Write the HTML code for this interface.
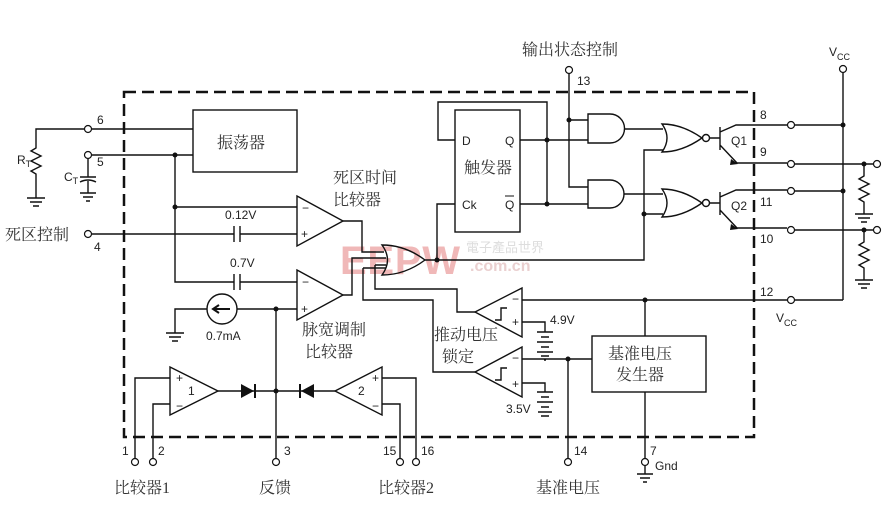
<!DOCTYPE html>
<html><head><meta charset="utf-8"><style>
html,body{margin:0;padding:0;background:#fff;}
svg{display:block;}
text{font-family:"Liberation Sans",Arial,sans-serif;fill:#222;}
.cn{font-family:"Liberation Serif","Noto Serif CJK SC","Noto Sans CJK SC",serif;font-size:16px;fill:#333;}
.n{font-size:12px;}
</style></head><body>
<svg width="896" height="506" viewBox="0 0 896 506" xmlns="http://www.w3.org/2000/svg">
<g stroke="#111" stroke-width="1.3" fill="none">
<rect x="124" y="92" width="630" height="345" stroke-width="2.5" stroke-dasharray="12,6"/>
</g>
<text x="340" y="274" style="font-size:40px;font-weight:bold;fill:#f0b8b8" textLength="120">EEPW</text>
<text x="466" y="252" style="font-size:13px;fill:#ddd">電子產品世界</text>
<text x="470" y="271" style="font-size:16px;font-weight:bold;fill:#ead0d0">.com.cn</text>
<g stroke="#111" stroke-width="1.4" fill="none">
<rect x="193" y="110" width="104" height="62"/>
<path d="M92,129 H193 M92,155 H193 M84,129 H36 V148 l-5,3 10,5 -10,5 10,5 -10,5 5,3 V198"/>
<path d="M27,198 H45 M30,202 H42 M33,206 H39"/>
<path d="M88,159 V177 M80,177 H96 M80,182 Q88,178 96,182 M88,181 V193 M80,193 H96 M83,197 H93 M86,201 H90"/>
<path d="M175,155 V282 H234 M240,282 H297 M175,207 H297"/>
<path d="M92,234 H234 M240,234 H297"/>
<path d="M234,226 V242 M240,226 V242 M234,274 V290 M240,274 V290"/>
<path d="M297,196 L343,221 L297,246 Z"/>
<path d="M297,270 L343,295 L297,320 Z"/>
<circle cx="222" cy="309" r="15"/>
<path d="M207,309 H175 V333 M166,333 H184 M169,337 H181 M172,341 H178 M237,309 H297"/>
<path d="M230,309 H214 M219,305 L213,309 219,313" stroke-width="2"/>
<path d="M276,309 V458"/>
<path d="M343,221 H362 V252 H384 M343,295 H352 V258 H386 M375,265 H386 M375,265 V289 H457 V312 H475 M363,268 H386 M363,268 V300 H433 V372 H475"/>
<path d="M382,245 Q405,245 425,260 Q405,275 382,275 Q393,260 382,245 Z"/>
<path d="M425,260 H644 V150 H663 M644,214 H663 M437,260 V204 H455"/>
<rect x="455" y="110" width="65" height="122"/>
<path d="M455,140 H438 V102 H547 V204 M520,140 H588 M520,204 H588"/>
<path d="M569,73 V187 H588 M569,120 H588"/>
<path d="M588,114 H610 A14.5,14.5 0 0 1 610,143 H588 Z"/>
<path d="M588,180 H610 A14,14 0 0 1 610,208 H588 Z"/>
<path d="M625,129 H663 M624,194 H663"/>
<path d="M662,124 Q682,124 702,138 Q682,152 662,152 Q672,138 662,124 Z"/>
<path d="M662,189 Q682,189 702,203 Q682,217 662,217 Q672,203 662,189 Z"/>
<circle cx="706" cy="138" r="3.5"/><circle cx="706" cy="203" r="3.5"/>
<path d="M710,138 H720 M720,127 V150 M720,132 L736,125 H787 M720,145 L737,163 H787"/>
<path d="M710,203 H720 M720,192 V215 M720,197 L736,190 H787 M720,210 L737,228 H787"/>
<path d="M795,125 H843 M795,164 H873 M795,191 H843 M795,230 H873 M795,300 H843 M843,73 V300"/>
<path d="M864,164 V176 l-5,3 10,5 -10,5 10,5 -10,5 5,3 V214 M855,214 H873 M858,218 H870 M861,222 H867"/>
<path d="M864,230 V242 l-5,3 10,5 -10,5 10,5 -10,5 5,3 V280 M855,280 H873 M858,284 H870 M861,288 H867"/>
<path d="M522,288 L475,312 L522,337 Z M522,347 L475,372 L522,397 Z"/>
<path d="M522,300 H787 M522,322 H545 V332 M522,383 H545 V392 M522,359 H592"/>
<path d="M495,320 h6 v-12 h6 M495,380 h6 v-12 h6"/>
<path d="M537,332 H553 M541,337 H549 M537,342 H553 M541,347 H549 M537,352 H553 M541,356 H549 M544,360 H546"/>
<path d="M537,392 H553 M541,397 H549 M537,402 H553 M541,407 H549 M538,412 H552 M541,416 H549"/>
<rect x="592" y="336" width="114" height="56"/>
<path d="M645,300 V336 M645,392 V458 M568,359 V458 M637,474 H653 M640,478 H650 M643,482 H647 M645,466 V474"/>
<path d="M170,367 L218,391 L170,415 Z M382,367 L335,391 L382,415 Z"/>
<path d="M218,391 H335"/>
<path d="M135,458 V378 H170 M153,458 V404 H170 M416,458 V378 H382 M400,458 V404 H382"/>
</g>
<g fill="#111">
<path d="M241,384 L254,391 241,398 Z M314,384 L301,391 314,398 Z"/>
<rect x="254" y="384" width="2" height="14"/><rect x="299" y="384" width="2" height="14"/>
<circle cx="175" cy="155" r="2.5"/><circle cx="175" cy="207" r="2.5"/>
<circle cx="276" cy="309" r="2.5"/><circle cx="276" cy="391" r="2.5"/>
<circle cx="437" cy="260" r="2.5"/><circle cx="547" cy="140" r="2.5"/><circle cx="547" cy="204" r="2.5"/>
<circle cx="569" cy="120" r="2.5"/><circle cx="644" cy="214" r="2.5"/>
<circle cx="843" cy="125" r="2.5"/><circle cx="843" cy="191" r="2.5"/>
<circle cx="864" cy="164" r="2.5"/><circle cx="864" cy="230" r="2.5"/>
<circle cx="645" cy="300" r="2.5"/><circle cx="568" cy="359" r="2.5"/>
<path d="M731,159 L738,164 730,165 Z M731,224 L738,229 730,230 Z"/>
</g>
<g fill="#fff" stroke="#111" stroke-width="1.2">
<circle cx="88" cy="129" r="3.5"/><circle cx="88" cy="155" r="3.5"/><circle cx="88" cy="234" r="3.5"/>
<circle cx="569" cy="70" r="3.5"/><circle cx="843" cy="69" r="3.5"/>
<circle cx="791" cy="125" r="3.5"/><circle cx="791" cy="164" r="3.5"/><circle cx="791" cy="191" r="3.5"/><circle cx="791" cy="230" r="3.5"/><circle cx="791" cy="300" r="3.5"/>
<circle cx="877" cy="164" r="3.5"/><circle cx="877" cy="230" r="3.5"/>
<circle cx="135" cy="462" r="3.5"/><circle cx="153" cy="462" r="3.5"/><circle cx="276" cy="462" r="3.5"/><circle cx="400" cy="462" r="3.5"/><circle cx="416" cy="462" r="3.5"/><circle cx="568" cy="462" r="3.5"/><circle cx="645" cy="462" r="3.5"/>
</g>
<g>
<text x="97" y="124" class="n">6</text><text x="97" y="166" class="n">5</text><text x="94" y="251" class="n">4</text>
<text x="17" y="164" class="n">R<tspan font-size="9" dy="3">T</tspan></text>
<text x="64" y="181" class="n">C<tspan font-size="9" dy="3">T</tspan></text>
<text x="225" y="219" class="n">0.12V</text><text x="230" y="267" class="n">0.7V</text>
<text x="206" y="340" class="n">0.7mA</text>
<text x="302" y="212" class="n">−</text><text x="301" y="238" class="n">+</text>
<text x="302" y="286" class="n">−</text><text x="301" y="313" class="n">+</text>
<text x="176" y="382" class="n">+</text><text x="176" y="410" class="n">−</text><text x="188" y="395" class="n">1</text>
<text x="372" y="382" class="n">+</text><text x="372" y="410" class="n">−</text><text x="358" y="395" class="n">2</text>
<text x="512" y="303" class="n">−</text><text x="512" y="326" class="n">+</text>
<text x="512" y="362" class="n">−</text><text x="512" y="388" class="n">+</text>
<text x="550" y="324" class="n">4.9V</text><text x="506" y="413" class="n">3.5V</text>
<text x="462" y="145" class="n">D</text><text x="505" y="145" class="n">Q</text>
<text x="462" y="209" class="n">Ck</text><text x="505" y="209" class="n">Q</text>
<path d="M505,196 H514" stroke="#111" stroke-width="1"/>
<text x="577" y="85" class="n">13</text>
<text x="731" y="145" class="n">Q1</text><text x="731" y="210" class="n">Q2</text>
<text x="760" y="119" class="n">8</text><text x="760" y="156" class="n">9</text><text x="760" y="206" class="n">11</text><text x="760" y="243" class="n">10</text><text x="760" y="296" class="n">12</text>
<text x="829" y="56" class="n">V<tspan font-size="9" dy="4">CC</tspan></text>
<text x="776" y="322" class="n">V<tspan font-size="9" dy="4">CC</tspan></text>
<text x="122" y="455" class="n">1</text><text x="158" y="455" class="n">2</text><text x="284" y="455" class="n">3</text>
<text x="383" y="455" class="n">15</text><text x="421" y="455" class="n">16</text><text x="574" y="455" class="n">14</text><text x="650" y="455" class="n">7</text>
<text x="655" y="470" class="n">Gnd</text>
</g>
<g>
<text x="217" y="148" class="cn">振荡器</text>
<text x="333" y="183" class="cn">死区时间</text><text x="333" y="205" class="cn">比较器</text>
<text x="5" y="240" class="cn">死区控制</text>
<text x="302" y="335" class="cn">脉宽调制</text><text x="305" y="357" class="cn">比较器</text>
<text x="434" y="340" class="cn">推动电压</text><text x="442" y="362" class="cn">锁定</text>
<text x="464" y="173" class="cn">触发器</text>
<text x="608" y="359" class="cn">基准电压</text><text x="616" y="380" class="cn">发生器</text>
<text x="522" y="55" class="cn">输出状态控制</text>
<text x="114" y="493" class="cn">比较器1</text><text x="259" y="493" class="cn">反馈</text>
<text x="378" y="493" class="cn">比较器2</text><text x="536" y="493" class="cn">基准电压</text>
</g>
</svg>
</body></html>
